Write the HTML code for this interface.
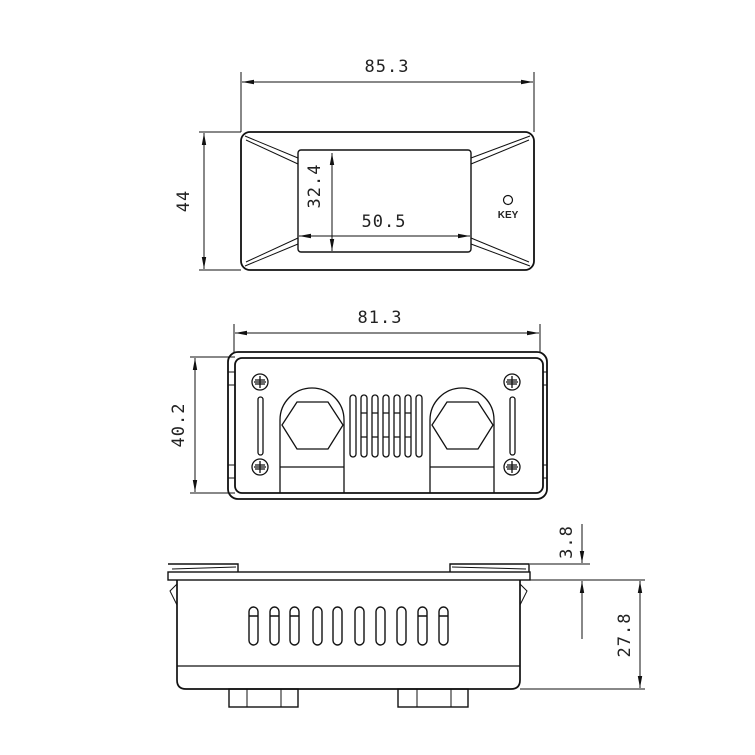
<!DOCTYPE html>
<html><head><meta charset="utf-8"><style>
html,body{margin:0;padding:0;background:#fff}
svg{display:block}
text{font-family:"DejaVu Sans Mono","Liberation Mono",monospace;fill:#222}
</style></head><body>
<svg width="755" height="755" viewBox="0 0 755 755" xmlns="http://www.w3.org/2000/svg">
<defs>
<marker id="a" viewBox="0 0 12 6" refX="12" refY="3" markerWidth="12" markerHeight="6" orient="auto-start-reverse" markerUnits="userSpaceOnUse">
<path d="M0,0.8 L12,3 L0,5.2 Z" fill="#111"/></marker>
</defs>
<g stroke="#111" fill="none" stroke-width="1">
<!-- TOP VIEW -->
<line x1="241" y1="72" x2="241" y2="132"/>
<line x1="534" y1="72" x2="534" y2="132"/>
<line x1="242" y1="82" x2="533" y2="82" marker-start="url(#a)" marker-end="url(#a)"/>
<line x1="199" y1="132" x2="241" y2="132"/>
<line x1="199" y1="270" x2="241" y2="270"/>
<line x1="204" y1="133" x2="204" y2="269" marker-start="url(#a)" marker-end="url(#a)"/>
<rect x="241" y="132" width="293" height="138" rx="9" stroke-width="1.8"/>
<rect x="298" y="150" width="173" height="102" rx="3" stroke-width="1.4"/>
<path d="M245,136 L298,158 M246,140 L298,164 M530,136 L471,158 M529,140 L471,164 M245,266 L298,244 M246,262 L298,238 M530,266 L471,244 M529,262 L471,238"/>
<line x1="332" y1="153" x2="332" y2="251" marker-start="url(#a)" marker-end="url(#a)"/>
<line x1="299" y1="236" x2="470" y2="236" marker-start="url(#a)" marker-end="url(#a)"/>
<circle cx="508" cy="200" r="4.5" stroke-width="1.2"/>
<!-- MIDDLE VIEW -->
<line x1="234" y1="324" x2="234" y2="352"/>
<line x1="540" y1="324" x2="540" y2="352"/>
<line x1="235" y1="333" x2="539" y2="333" marker-start="url(#a)" marker-end="url(#a)"/>
<line x1="190" y1="357" x2="235" y2="357"/>
<line x1="190" y1="493" x2="235" y2="493"/>
<line x1="195" y1="358" x2="195" y2="492" marker-start="url(#a)" marker-end="url(#a)"/>
<rect x="228" y="352" width="319" height="147" rx="10" stroke-width="1.8"/>
<rect x="235" y="358" width="308" height="135" rx="7" stroke-width="1.8"/>
<path d="M228,372 h7 M228,385 h7 M228,465 h7 M228,478 h7 M547,372 h-4 M547,385 h-4 M547,465 h-4 M547,478 h-4"/>
<g stroke-width="1.3">
<circle cx="260" cy="382" r="8"/><path d="M254,382 h12 M260,376 v12 M255,380 h10 M255,384 h10"/>
<circle cx="260" cy="467" r="8"/><path d="M254,467 h12 M260,461 v12 M255,465 h10 M255,469 h10"/>
<circle cx="512" cy="382" r="8"/><path d="M506,382 h12 M512,376 v12 M507,380 h10 M507,384 h10"/>
<circle cx="512" cy="467" r="8"/><path d="M506,467 h12 M512,461 v12 M507,465 h10 M507,469 h10"/>
<rect x="258" y="397" width="5" height="58" rx="2.5"/>
<rect x="510" y="397" width="5" height="58" rx="2.5"/>
<path d="M280,493 V420 A32,32 0 0 1 344,420 V493 M280,467 H344"/>
<path d="M297,402 L328,402 L343,425 L328,449 L297,449 L282,425 Z"/>
<path d="M430,493 V420 A32,32 0 0 1 494,420 V493 M430,467 H494"/>
<path d="M447,402 L478,402 L493,425 L478,449 L447,449 L432,425 Z"/>
<rect x="350" y="395" width="6" height="62" rx="3"/>
<rect x="361" y="395" width="6" height="62" rx="3"/>
<rect x="372" y="395" width="6" height="62" rx="3"/>
<rect x="383" y="395" width="6" height="62" rx="3"/>
<rect x="394" y="395" width="6" height="62" rx="3"/>
<rect x="405" y="395" width="6" height="62" rx="3"/>
<rect x="416" y="395" width="6" height="62" rx="3"/>
<path d="M361,413 h6 M372,413 h6 M383,413 h6 M394,413 h6 M405,413 h6 M361,437 h6 M372,437 h6 M383,437 h6 M394,437 h6 M405,437 h6"/>
</g>
<!-- SIDE VIEW -->
<path d="M168,564 H238 V572 M450,572 V564 H529 V572" stroke-width="1.4"/>
<path d="M172,569 L236,567 M452,567 L526,569"/>
<rect x="168" y="572" width="362" height="8" stroke-width="1.4"/>
<path d="M177,580 V680 Q177,689 186,689 H511 Q520,689 520,680 V580" stroke-width="1.7"/>
<line x1="177" y1="666" x2="520" y2="666" stroke-width="1.3"/>
<path d="M177,584 L170,591 L177,605 M520,584 L527,591 L520,605"/>
<g stroke-width="1.4">
<rect x="249" y="607" width="9" height="38" rx="4.5"/>
<rect x="270" y="607" width="9" height="38" rx="4.5"/>
<rect x="290" y="607" width="9" height="38" rx="4.5"/>
<rect x="313" y="607" width="9" height="38" rx="4.5"/>
<rect x="333" y="607" width="9" height="38" rx="4.5"/>
<rect x="355" y="607" width="9" height="38" rx="4.5"/>
<rect x="376" y="607" width="9" height="38" rx="4.5"/>
<rect x="397" y="607" width="9" height="38" rx="4.5"/>
<rect x="418" y="607" width="9" height="38" rx="4.5"/>
<rect x="439" y="607" width="9" height="38" rx="4.5"/>
<path d="M249,616 h9 M270,616 h9 M290,616 h9 M418,616 h9 M439,616 h9"/>
</g>
<rect x="229" y="689" width="69" height="18" stroke-width="1.4"/>
<path d="M247,689 v18 M281,689 v18"/>
<rect x="398" y="689" width="70" height="18" stroke-width="1.4"/>
<path d="M417,689 v18 M451,689 v18"/>
<!-- dims side -->
<line x1="530" y1="564" x2="590" y2="564"/>
<line x1="530" y1="580" x2="645" y2="580"/>
<line x1="520" y1="689" x2="645" y2="689"/>
<line x1="582" y1="524" x2="582" y2="563" marker-end="url(#a)"/>
<line x1="582" y1="639" x2="582" y2="581" marker-end="url(#a)"/>
<line x1="640" y1="581" x2="640" y2="688" marker-start="url(#a)" marker-end="url(#a)"/>
</g>
<g font-size="17" letter-spacing="1">
<text x="387" y="72" text-anchor="middle">85.3</text>
<text transform="translate(189,201) rotate(-90)" text-anchor="middle">44</text>
<text transform="translate(320,186) rotate(-90)" text-anchor="middle">32.4</text>
<text x="384" y="227" text-anchor="middle">50.5</text>
<text x="380" y="323" text-anchor="middle">81.3</text>
<text transform="translate(184,425) rotate(-90)" text-anchor="middle">40.2</text>
<text transform="translate(572,542) rotate(-90)" text-anchor="middle">3.8</text>
<text transform="translate(630,635) rotate(-90)" text-anchor="middle">27.8</text>
</g>
<text x="508" y="218" text-anchor="middle" font-size="10" font-weight="bold" style="font-family:'Liberation Sans',sans-serif">KEY</text>
</svg>
</body></html>
